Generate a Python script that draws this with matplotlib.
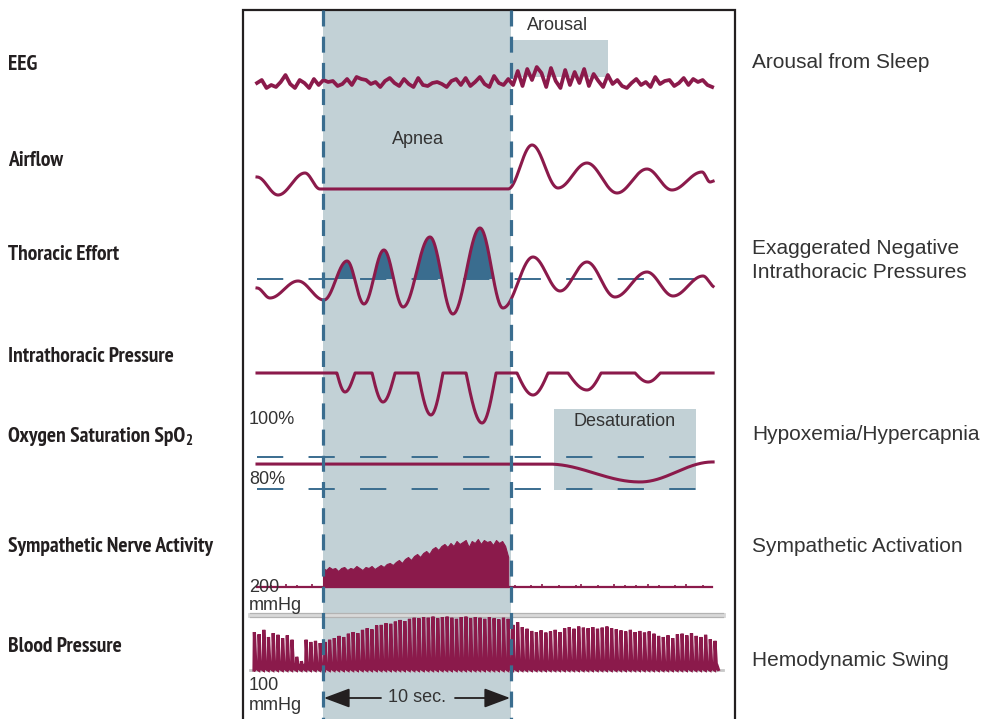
import numpy as np
import matplotlib
matplotlib.use("Agg")
import matplotlib.pyplot as plt
from matplotlib import font_manager as fm
from matplotlib.patches import Rectangle

# --- timing (seconds, apnea starts at 0) ---
APNEA = (0.0, 10.0)
AROUSAL = (10.0, 15.16)
DESAT = (12.29, 19.84)
T_START, T_END = -3.51, 20.75

# EEG deflections (arbitrary units, up = positive)
eeg_pre = [0, 3, -5, -2, -4, 1, 8, -1, -5, 3, 0, -5, 4, -2]
eeg_apnea = [3, 1, 2, -3, -1, 4, -2, 6, 4, 3, -1, 1, -4, 2, 5, 0, -3, 4, -1, -4,
             5, -2, -3, 0, 1, -1, -4, 2, 4, -2, 5, -3, 1, 6, -1, -4, 7, 0, -2, 4]
eeg_arousal = [-2, 12, -3, 14, 3, 16, 10, -4, 15, 2, -5, 13, -2, 11, 0, 14, -3,
               9, 2, -4, 8]
eeg_post = [-1, 3, -3, -5, 0, 4, -2, 1, -4, 6, -1, 2, 3, -3, 0, 5, -2, 4, 1, 3,
            -2, -4]

# airflow: turning points (time s, amplitude)
airflow_t = [-3.51, -2.39, -0.96, -0.16, 9.84, 11.12, 12.5, 14.04, 15.64, 17.23,
             18.56, 20.16, 20.59, 20.8]
airflow_v = [12, -6, 16, 0, 0, 44, 1, 26, -4, 20, -1, 17, 7, 8]

# thoracic effort: turning points
effort_t = [-3.51, -2.82, -1.33, 0.05, 1.28, 2.18, 3.24, 4.26, 5.69, 6.91, 8.35,
            9.57, 11.17, 12.61, 14.04, 15.53, 17.23, 18.62, 20.21, 20.85]
effort_v = [-9, -19, -2, -21, 18, -25, 29, -28, 42, -35, 51, -29, 22, -12, 17,
            -18, 7, -17, 3, -8]

# intrathoracic pressure swings
dip_start = [0.74, 2.61, 5.05, 7.61, 10.32, 13.03, 16.60]
dip_mid = [1.17, 3.19, 5.74, 8.46, 11.17, 14.04, 17.29]
dip_end = [1.70, 3.83, 6.38, 9.20, 11.97, 14.79, 17.93]
dip_depth = [19, 29, 42, 50, 22, 17, 9]

# oxygen saturation (%)
spo2_t = [-3.51, 11.97, 16.86, 20.74]
spo2_pct = [95.6, 95.6, 84.4, 96.9]

# sympathetic nerve activity burst heights
sna_apnea = [19, 17, 20, 18, 19, 16, 19, 20, 17, 19, 18, 21, 19, 17, 20, 19, 21,
             18, 20, 22, 20, 23, 24, 22, 25, 27, 24, 28, 30, 27, 31, 33, 30, 34,
             36, 33, 38, 40, 37, 41, 43, 40, 44, 41, 46, 43, 45, 47, 40, 46, 44,
             48, 43, 47, 45, 46, 42, 47, 44, 46, 41, 30]
sna_pre = [1, 0, 2, 1, 0, 3, 1, 2, 0, 1, 3, 1]
sna_post = [2, 1, 0, 2, 1, 3, 0, 1, 2, 1, 0, 2, 3, 1, 0, 2, 1, 1, 3, 0, 2, 1, 2,
            0, 3, 1, 2, 1, 0, 2, 1, 3, 1, 0, 2, 1]

# blood pressure, systolic per beat (mmHg)
bp_systolic = [169, 165, 173, 160, 167, 164, 158, 163, 155,
               124, 116,
               155, 151, 153, 149,
               151, 155, 158, 162, 160, 166, 169, 167, 173, 176, 174, 181,
               182, 185, 184, 188, 191, 189, 193, 195, 194,
               196, 195, 197, 194, 196, 197, 195, 193, 196, 197, 194, 196, 195,
               193, 196, 194, 192, 195, 193,
               182, 187, 178, 175,
               171, 169, 172, 168, 170, 173, 169,
               176, 178, 175, 179, 177, 176, 178, 175, 177, 179, 176, 174,
               172, 170, 173, 169, 171, 168, 170, 166,
               162, 160, 163, 158, 165,
               166, 163, 167, 162, 160, 164, 156, 153]
BP_DIASTOLIC = 100
BP_T0 = -3.67
BEAT_S = 0.25

# --- layout ---
PX_PER_S = 18.8
ORIGIN_PX = 323
EEG_Y, AIR_Y, EFF_Y, ITP_Y, SNA_Y = 83, 189, 279, 373, 587
SPO2_100_Y, SPO2_PX = 457, 1.6
BP_100_Y, BP_PX = 670, 0.55

TRACE = "#8b1a4b"
SHADE = "#c2d1d6"
BLUE = "#3a6d8f"
INK = "#231f20"
GREY = "#333333"


def sec(px):
    return (px - ORIGIN_PX) / PX_PER_S


def smooth(kt, kv, t):
    kt = np.asarray(kt, float)
    kv = np.asarray(kv, float)
    i = np.clip(np.searchsorted(kt, t, side="right") - 1, 0, len(kt) - 2)
    u = np.clip((t - kt[i]) / (kt[i + 1] - kt[i]), 0, 1)
    return kv[i] + (kv[i + 1] - kv[i]) * (1 - np.cos(np.pi * u)) / 2


def weight_num(w):
    if isinstance(w, (int, float)):
        return w
    return {"bold": 700, "heavy": 800, "black": 900, "semibold": 600,
            "demibold": 600}.get(str(w).lower(), 400)


def narrow_bold_font():
    """Pick an installed condensed bold sans face, if there is one."""
    best, best_score = None, -1
    for f in fm.fontManager.ttflist:
        name = f.name.lower()
        stretch = str(f.stretch).lower()
        narrow = ("narrow" in name or "condensed" in name
                  or stretch in ("condensed", "semi-condensed", "extra-condensed"))
        if not narrow or weight_num(f.weight) < 600 or "italic" in f.style:
            continue
        if "mono" in name or "serif" in name.replace("sans", ""):
            continue
        score = 1
        if "narrow" in name:
            score += 3
        if stretch == "condensed" or "condensed" in f.fname.lower():
            score += 2
        if "sans" in name or "roboto" in name:
            score += 1
        if score > best_score:
            best, best_score = f, score
    if best is None:
        return fm.FontProperties(family="Liberation Sans", weight="bold")
    return fm.FontProperties(fname=best.fname)


fig = plt.figure(figsize=(9.81, 7.19), dpi=100)
ax = fig.add_axes([0, 0, 1, 1])
ax.set_xlim(sec(0), sec(981))
ax.set_ylim(719, 0)
ax.axis("off")

# shaded regions
ax.add_patch(Rectangle((APNEA[0], 10), APNEA[1] - APNEA[0], 709, color=SHADE, lw=0, zorder=0))
ax.add_patch(Rectangle((AROUSAL[0], 40), AROUSAL[1] - AROUSAL[0], 37, color=SHADE, lw=0, zorder=0))
ax.add_patch(Rectangle((DESAT[0], 409), DESAT[1] - DESAT[0], 81, color=SHADE, lw=0, zorder=0))

# frame
bx0, bx1 = sec(243), sec(735)
ax.plot([bx0, bx0, bx1, bx1], [719, 10, 10, 719], color=INK, lw=1.6, zorder=1,
        solid_joinstyle="miter")

t = np.linspace(T_START, T_END, 3000)

# EEG
eeg = eeg_pre + eeg_apnea + eeg_arousal + eeg_post
ax.plot(np.linspace(T_START, 20.7, len(eeg)), EEG_Y - np.array(eeg), color=TRACE,
        lw=2.7, zorder=3, solid_joinstyle="round")

# airflow
ax.plot(t, AIR_Y - smooth(airflow_t, airflow_v, t), color=TRACE, lw=2.2, zorder=3)

# thoracic effort
eff = EFF_Y - smooth(effort_t, effort_v, t)
ax.plot([T_START, T_END], [EFF_Y, EFF_Y], color=BLUE, lw=1.4, dashes=(13.5, 13),
        zorder=1)
ax.fill_between(t, eff, EFF_Y, where=(eff < EFF_Y) & (t > APNEA[0]) & (t < APNEA[1]),
                interpolate=True, color=BLUE, lw=0, zorder=2)
ax.plot(t, eff, color=TRACE, lw=2.2, zorder=3)

# intrathoracic pressure
itp = np.zeros_like(t)
for s, m, e, d in zip(dip_start, dip_mid, dip_end, dip_depth):
    left = (t >= s) & (t < m)
    right = (t >= m) & (t <= e)
    itp[left] = -d * np.sin(np.pi / 2 * (t[left] - s) / (m - s))
    itp[right] = -d * np.sin(np.pi / 2 * (e - t[right]) / (e - m))
ax.plot(t, ITP_Y - itp, color=TRACE, lw=2.2, zorder=3)

# oxygen saturation
for lvl in (100, 80):
    y = SPO2_100_Y + (100 - lvl) * SPO2_PX
    ax.plot([T_START, sec(712)], [y, y], color=BLUE, lw=1.4, dashes=(13.5, 13), zorder=1)
ax.plot(t, SPO2_100_Y + (100 - smooth(spo2_t, spo2_pct, t)) * SPO2_PX, color=TRACE,
        lw=2.2, zorder=3)

# sympathetic nerve activity
ax.plot([T_START, 20.7], [SNA_Y, SNA_Y], color=TRACE, lw=1.6, zorder=3)
ts = np.linspace(APNEA[0], 9.85, len(sna_apnea))
ax.fill_between(ts, SNA_Y - np.array(sna_apnea), SNA_Y, color=TRACE,
                lw=0.8, edgecolor=TRACE, zorder=3)
tp = np.linspace(T_START + 0.2, -0.3, len(sna_pre))
tq = np.linspace(10.2, 20.5, len(sna_post))
ax.vlines(np.r_[tp, tq], SNA_Y, SNA_Y - np.array(sna_pre + sna_post) - 0.5,
          color=TRACE, lw=1.2, zorder=3)

# blood pressure
gx0, gx1 = sec(250), sec(723)
ax.plot([gx0, gx1], [615, 615], color="#d9d9d9", lw=3.5, zorder=1)
for yy in (613.3, 616.7):
    ax.plot([gx0, gx1], [yy, yy], color="#b3b3b3", lw=0.9, zorder=1)
ax.plot([gx0, gx1], [BP_100_Y, BP_100_Y], color="#c8c8c8", lw=2.0, zorder=1)
bx, by = [], []
for i, s in enumerate(bp_systolic):
    tb = BP_T0 + i * BEAT_S
    bx += [tb, tb + 0.02, tb + 0.10, tb + 0.15, tb + 0.20]
    by += [BP_DIASTOLIC, s, BP_DIASTOLIC + 4, BP_DIASTOLIC + 6, BP_DIASTOLIC + 1]
ax.plot(bx, BP_100_Y - (np.array(by) - 100) * BP_PX, color=TRACE, lw=2.3, zorder=3,
        solid_joinstyle="miter")

# apnea borders
for xv in APNEA:
    ax.plot([xv, xv], [10, 719], color=BLUE, lw=2.3, dashes=(5.0, 3.2), zorder=5)

# 10 sec arrows
ax.text(5.0, 698, "10 sec.", ha="center", va="center", fontsize=13, color=GREY,
        family="Liberation Sans")
arrow = dict(arrowstyle="-|>,head_length=0.8,head_width=0.3", color=INK, lw=1.3,
             shrinkA=0, shrinkB=0, mutation_scale=20)
ax.annotate("", xy=(APNEA[0] + 0.05, 698), xytext=(sec(381), 698), arrowprops=arrow, zorder=6)
ax.annotate("", xy=(APNEA[1] - 0.05, 698), xytext=(sec(455), 698), arrowprops=arrow, zorder=6)

# inner labels
inner = dict(fontsize=13, color=GREY, family="Liberation Sans", zorder=6)
ax.text(sec(558), 26, "Arousal", ha="center", va="center", **inner)
ax.text(sec(418), 140, "Apnea", ha="center", va="center", **inner)
ax.text(sec(625), 422, "Desaturation", ha="center", va="center", **inner)
ax.text(sec(249), 420, "100%", ha="left", va="center", **inner)
ax.text(sec(249), 480, "80%", ha="left", va="center", **inner)
ax.text(sec(249), 587, "200", ha="left", va="center", **inner)
ax.text(sec(249), 605, "mmHg", ha="left", va="center", **inner)
ax.text(sec(249), 686, "100", ha="left", va="center", **inner)
ax.text(sec(249), 705, "mmHg", ha="left", va="center", **inner)

# left-hand signal names, sized so the longest one spans ~212 px
left_labels = ["EEG", "Airflow", "Thoracic Effort", "Intrathoracic Pressure",
               "Oxygen Saturation SpO", "Sympathetic Nerve Activity",
               "Blood Pressure"]
left_y = [64, 160, 255, 356, 436, 547, 646]
lfont = narrow_bold_font()
lfont.set_weight("bold")
renderer = fig.canvas.get_renderer()
probe = ax.text(0, 0, "Sympathetic Nerve Activity", fontproperties=lfont, fontsize=14)
lsize = 14 * 212 / probe.get_window_extent(renderer).width
lsize = min(lsize, 15.5)
probe.remove()
left_texts = []
for lab, y in zip(left_labels, left_y):
    left_texts.append(ax.text(sec(8), y, lab, ha="left", va="center", fontsize=lsize,
                              color=INK, fontproperties=lfont))
# subscript 2 of SpO2
ext = left_texts[4].get_window_extent(renderer)
ax.text(ext.x1 - 0.5, fig.bbox.height - 436 - 5, "2", transform=None, ha="left",
        va="center", fontsize=lsize * 0.7, color=INK, fontproperties=lfont)

# right-hand consequences
right_labels = ["Arousal from Sleep", "Exaggerated Negative", "Intrathoracic Pressures",
                "Hypoxemia/Hypercapnia", "Sympathetic Activation", "Hemodynamic Swing"]
right_y = [62, 249, 272, 434, 547, 661]
for lab, y in zip(right_labels, right_y):
    ax.text(sec(752), y, lab, ha="left", va="center", fontsize=15, color=GREY,
            family="Liberation Sans")

fig.savefig("out.png", dpi=100)
